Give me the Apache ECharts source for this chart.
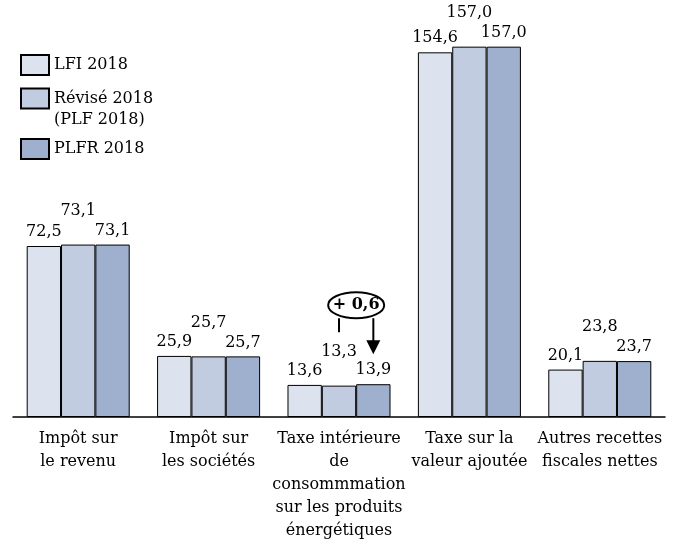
<!DOCTYPE html>
<html><head><meta charset="utf-8">
<script src="https://cdn.jsdelivr.net/npm/echarts@6/dist/echarts.min.js"></script>
<style>html,body{margin:0;padding:0;background:#fff}#c{width:677px;height:548px}</style>
</head><body><div id="c"></div>
<script>
const categories = ["Impôt sur\nle revenu","Impôt sur\nles sociétés","Taxe intérieure\nde\nconsommmation\nsur les produits\nénergétiques","Taxe sur la\nvaleur ajoutée","Autres recettes\nfiscales nettes"];
const seriesNames = ["LFI 2018","Révisé 2018\n(PLF 2018)","PLFR 2018"];
const lfi = [72.5, 25.9, 13.6, 154.6, 20.1];
const revise = [73.1, 25.7, 13.3, 157.0, 23.8];
const plfr = [73.1, 25.7, 13.9, 157.0, 23.7];
const annotationText = "+ 0,6";
const annotationCategory = 2;

const FONT = "DejaVu Serif";
const colors = ["#dde3ee","#c2cce0","#9eb0cd"];
const fmt = p => p.value.toFixed(1).replace('.', ',');

const chart = echarts.init(document.getElementById('c'), null, {renderer:'canvas'});
function mk(name, data, idx, off){
  return {
    name, type:'bar', data, barGap:'0%', barCategoryGap:'21%',
    itemStyle:{color:colors[idx], borderColor:'#000', borderWidth:1},
    label:{show:true, position:'top', distance:6, offset:[0,off], formatter:fmt,
      fontFamily:FONT, fontSize:16, color:'#000'},
    emphasis:{disabled:true}, animation:false
  };
}
const legendBase = {orient:'vertical', left:20, padding:0, itemWidth:28, itemHeight:20, icon:'rect',
  itemStyle:{borderColor:'#000', borderWidth:2},
  textStyle:{fontFamily:FONT, fontSize:16, color:'#000', lineHeight:21}, itemGap:10, selectedMode:false};
chart.setOption({
  animation:false,
  grid:{left:13, right:12, top:16, bottom:131},
  legend:[
    Object.assign({}, legendBase, {top:54, data:[seriesNames[0]]}),
    Object.assign({}, legendBase, {top:67, data:[seriesNames[1]], formatter: n => ' \n' + n}),
    Object.assign({}, legendBase, {top:138, data:[seriesNames[2]]})
  ],
  xAxis:{type:'category', data:categories,
    axisLine:{lineStyle:{color:'#000', width:1.5}}, axisTick:{show:false},
    axisLabel:{interval:0, margin:10, fontFamily:FONT, fontSize:16, color:'#000', lineHeight:23}},
  yAxis:{type:'value', min:0, max:170, show:false, splitLine:{show:false}},
  series:[mk(seriesNames[0], lfi, 0, 0), mk(seriesNames[1], revise, 1, -20), mk(seriesNames[2], plfr, 2, 0)]
});

// annotation anchored on bar layouts
const mid = chart.getModel().getSeriesByIndex(1).getData().getItemLayout(annotationCategory);
const right = chart.getModel().getSeriesByIndex(2).getData().getItemLayout(annotationCategory);
const xl = mid.x + mid.width/2, xr = right.x + right.width/2;
const barTop = Math.min(right.y, right.y + right.height);
const cx = (xl + xr)/2, cy = barTop - 79;
chart.setOption({graphic:[
  {type:'ellipse', shape:{cx:cx, cy:cy, rx:28, ry:13}, style:{fill:'#fff', stroke:'#000', lineWidth:2}, z:10},
  {type:'text', x:cx, y:cy, style:{text:annotationText, fontFamily:FONT, fontSize:16, fontWeight:'bold', fill:'#000', align:'center', verticalAlign:'middle'}, z:11},
  {type:'line', shape:{x1:xl, y1:cy+13, x2:xl, y2:cy+27}, style:{stroke:'#000', lineWidth:2}, z:10},
  {type:'line', shape:{x1:xr, y1:cy+13, x2:xr, y2:cy+36}, style:{stroke:'#000', lineWidth:2}, z:10},
  {type:'polygon', shape:{points:[[xr-7,cy+35],[xr+7,cy+35],[xr,cy+49]]}, style:{fill:'#000'}, z:10}
]});
</script></body></html>
